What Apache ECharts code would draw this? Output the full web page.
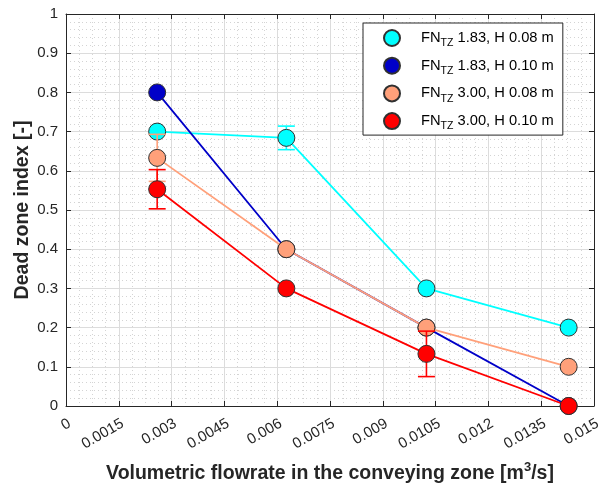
<!DOCTYPE html>
<html>
<head>
<meta charset="utf-8">
<script src="https://cdn.jsdelivr.net/npm/echarts@6/dist/echarts.min.js"></script>
<style>
  html, body { margin: 0; padding: 0; background: #fff; }
  #chart { width: 602px; height: 494px; }
</style>
</head>
<body>
<div id="chart"></div>
<script>
// Volumetric flowrate in the conveying zone [m3/s] at each measured setting
const flowrates = [0.00259, 0.00626, 0.01024, 0.01428];

// Dead zone index for each configuration (FN_TZ, outlet height H)
const fnValues = ['1.83', '1.83', '3.00', '3.00'];
const hValues = ['0.08', '0.10', '0.08', '0.10'];
const deadZoneFn183H008 = [0.70, 0.684, 0.30, 0.20];
const deadZoneFn183H010 = [0.80, 0.40, 0.20, 0.0];
const deadZoneFn300H008 = [0.633, 0.40, 0.20, 0.10];
const deadZoneFn300H010 = [0.553, 0.30, 0.133, 0.0];

// Error bar half-lengths (0 = no bar)
const errFn183H008 = [0, 0.03, 0, 0];
const errFn183H010 = [0, 0, 0, 0];
const errFn300H008 = [0.06, 0, 0, 0];
const errFn300H010 = [0.05, 0, 0.058, 0];

// Tick labels
const xTickLabels = ['0', '0.0015', '0.003', '0.0045', '0.006', '0.0075', '0.009', '0.0105', '0.012', '0.0135', '0.015'];
const yTickLabels = ['0', '0.1', '0.2', '0.3', '0.4', '0.5', '0.6', '0.7', '0.8', '0.9', '1'];

const seriesColors = ['#00FFFF', '#0000C8', '#FFA07A', '#FF0000'];
const allValues = [deadZoneFn183H008, deadZoneFn183H010, deadZoneFn300H008, deadZoneFn300H010];
const allErrors = [errFn183H008, errFn183H010, errFn300H008, errFn300H010];

const axisColor = '#262626';
const FONT = '"Liberation Sans", Arial, sans-serif';

const series = [];
allValues.forEach((vals, i) => {
  const name = 'FN_TZ ' + fnValues[i] + ', H ' + hValues[i] + ' m';
  const color = seriesColors[i];
  const errData = [];
  vals.forEach((v, k) => {
    if (allErrors[i][k] > 0) errData.push([flowrates[k], v, allErrors[i][k]]);
  });
  series.push({
    type: 'custom',
    name: name + ' err',
    z: 2 + 2 * i,
    silent: true,
    clip: false,
    encode: { x: 0, y: 1 },
    data: errData,
    renderItem: (params, api) => {
      const x = api.value(0), y = api.value(1), e = api.value(2);
      const top = api.coord([x, y + e]);
      const bot = api.coord([x, y - e]);
      const hw = 8.5;
      const st = { stroke: color, lineWidth: 1.6 };
      return {
        type: 'group',
        children: [
          { type: 'line', shape: { x1: top[0], y1: top[1], x2: bot[0], y2: bot[1] }, style: st },
          { type: 'line', shape: { x1: top[0] - hw, y1: top[1], x2: top[0] + hw, y2: top[1] }, style: st },
          { type: 'line', shape: { x1: bot[0] - hw, y1: bot[1], x2: bot[0] + hw, y2: bot[1] }, style: st }
        ]
      };
    }
  });
  series.push({
    type: 'line',
    name: name,
    z: 3 + 2 * i,
    data: vals.map((v, k) => [flowrates[k], v]),
    symbol: 'circle',
    symbolSize: 17,
    showSymbol: true,
    clip: false,
    lineStyle: { color: color, width: 1.8 },
    itemStyle: { color: color, borderColor: '#303030', borderWidth: 1, opacity: 1 },
    emphasis: { disabled: true },
    animation: false
  });
});

const lineSeries = series.filter(s => s.type === 'line');

const chart = echarts.init(document.getElementById('chart'), null, { renderer: 'canvas' });

const legendRich = {
  f: { fontFamily: FONT, fontSize: 14.7, color: '#000', lineHeight: 22, verticalAlign: 'middle', padding: [0, 0, 0, 4] },
  a: { fontFamily: FONT, fontSize: 14.7, color: '#000', lineHeight: 22, verticalAlign: 'middle' },
  b: { fontFamily: FONT, fontSize: 10.5, color: '#000', lineHeight: 12, verticalAlign: 'bottom' }
};

chart.setOption({
  animation: false,
  backgroundColor: '#ffffff',
  grid: { left: 66, right: 8, top: 14, bottom: 88, containLabel: false, outerBoundsMode: 'none' },
  legend: {
    orient: 'vertical',
    left: 363,
    top: 23,
    padding: [6, 9, 3, 20],
    itemGap: 7.7,
    itemWidth: 40,
    itemHeight: 16,
    icon: 'circle',
    backgroundColor: '#ffffff',
    borderColor: axisColor,
    borderWidth: 1,
    borderRadius: 0,
    selectedMode: false,
    data: lineSeries.map(s => s.name),
    formatter: (name) => {
      const i = lineSeries.findIndex(s => s.name === name);
      return '{f|FN}{b|TZ}{a| ' + fnValues[i] + ', H ' + hValues[i] + ' m}';
    },
    textStyle: { rich: legendRich }
  },
  xAxis: [
    {
      type: 'value',
      min: 0,
      max: 0.015,
      interval: 0.0015,
      position: 'bottom',
      name: '{t|Volumetric flowrate in the conveying zone [m}{s|3}{t|/s]}',
      nameLocation: 'middle',
      nameGap: 55,
      nameMoveOverlap: false,
      nameTextStyle: {
        rich: {
          t: { fontFamily: FONT, fontSize: 19.5, fontWeight: 'bold', color: axisColor, lineHeight: 26, verticalAlign: 'middle' },
          s: { fontFamily: FONT, fontSize: 13, fontWeight: 'bold', color: axisColor, lineHeight: 14, verticalAlign: 'top' }
        }
      },
      axisLine: { show: true, onZero: false, lineStyle: { color: axisColor, width: 1 } },
      axisTick: { show: true, inside: true, length: 5, lineStyle: { color: axisColor } },
      minorTick: { show: false, splitNumber: 4 },
      axisLabel: {
        rotate: 30,
        margin: 10,
        verticalAlign: 'top',
        align: 'right',
        fontFamily: FONT,
        fontSize: 15,
        color: axisColor,
        formatter: (v) => xTickLabels[Math.round(v / 0.0015)]
      },
      splitLine: { show: true, lineStyle: { color: '#dcdcdc', width: 1 } },
      minorSplitLine: { show: true, lineStyle: { color: '#d4d4d4', width: 1, type: [1, 3] } }
    },
    {
      type: 'value',
      min: 0,
      max: 0.015,
      interval: 0.0015,
      position: 'top',
      axisLine: { show: true, onZero: false, lineStyle: { color: axisColor, width: 1 } },
      axisTick: { show: true, inside: true, length: 5, lineStyle: { color: axisColor } },
      axisLabel: { show: false },
      splitLine: { show: false }
    }
  ],
  yAxis: [
    {
      type: 'value',
      min: 0,
      max: 1,
      interval: 0.1,
      position: 'left',
      name: 'Dead zone index [-]',
      nameLocation: 'middle',
      nameGap: 33,
      nameMoveOverlap: false,
      nameTextStyle: { fontFamily: FONT, fontSize: 19.5, fontWeight: 'bold', color: axisColor },
      axisLine: { show: true, onZero: false, lineStyle: { color: axisColor, width: 1 } },
      axisTick: { show: true, inside: true, length: 5, lineStyle: { color: axisColor } },
      minorTick: { show: false, splitNumber: 5 },
      axisLabel: {
        margin: 8,
        fontFamily: FONT,
        fontSize: 15,
        color: axisColor,
        formatter: (v) => yTickLabels[Math.round(v / 0.1)]
      },
      splitLine: { show: true, lineStyle: { color: '#dcdcdc', width: 1 } },
      minorSplitLine: { show: true, lineStyle: { color: '#d4d4d4', width: 1, type: [1, 3] } }
    },
    {
      type: 'value',
      min: 0,
      max: 1,
      interval: 0.1,
      position: 'right',
      axisLine: { show: true, onZero: false, lineStyle: { color: axisColor, width: 1 } },
      axisTick: { show: true, inside: true, length: 5, lineStyle: { color: axisColor } },
      axisLabel: { show: false },
      splitLine: { show: false }
    }
  ],
  series: series
});
</script>
</body>
</html>
